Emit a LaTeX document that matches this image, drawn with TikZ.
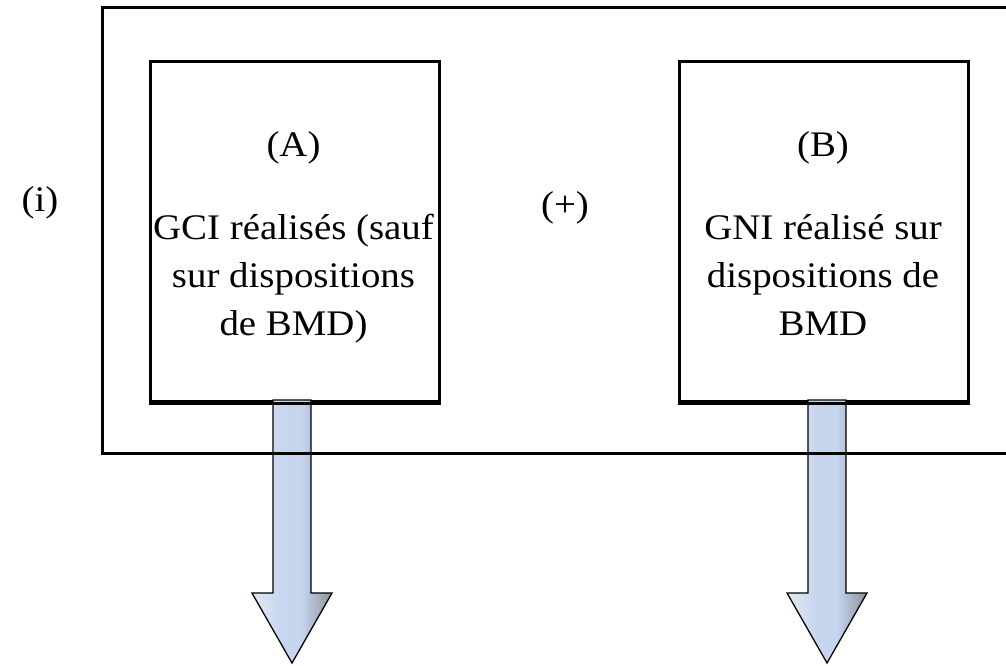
\documentclass[tikz,border=0pt]{standalone}
\usepackage{fontspec}
\setmainfont{Liberation Serif}
\definecolor{arrowL}{HTML}{E2E8F2}
\definecolor{arrowM}{HTML}{C6D6EF}
\definecolor{arrowR}{HTML}{8A919B}
\pgfdeclarehorizontalshading{arrowsh}{100bp}{color(0bp)=(arrowL); color(25bp)=(arrowL); color(44bp)=(arrowM); color(56bp)=(arrowM); color(75bp)=(arrowR); color(100bp)=(arrowR)}
\begin{document}
\begin{tikzpicture}[x=1pt,y=-1pt,
  framebox/.style={draw, line width=3pt, inner sep=0pt, anchor=north west},
  itembox/.style={draw, line width=3pt, minimum width=289pt, minimum height=340pt, inner sep=0pt, anchor=north west},
  lbl/.style={font=\fontsize{36}{48}\selectfont, anchor=base, inner sep=0pt},
  bigarrow/.style={draw=black, line width=1.3pt, line join=miter, shading=arrowsh, shading angle=0}]
\newcommand{\wide}[1]{\scalebox{1.08}[1]{#1}}
\useasboundingbox (0,0) rectangle (1006,665);
% inner boxes
\node[itembox] (A) at (149,60) {};
\node[itembox] (B) at (678,60) {};
% arrows
\coordinate (aT) at (292,400);
\coordinate (bT) at (827,400);
\draw[bigarrow, shift={(aT)}] (-19,0) -- (19,0) -- (19,193) -- (40,193) -- (0,263) -- (-40,193) -- (-19,193) -- cycle;
\draw[bigarrow, shift={(bT)}] (-19,0) -- (19,0) -- (19,193) -- (40,193) -- (0,263) -- (-40,193) -- (-19,193) -- cycle;
% box bottom lines over the arrows
\draw[line width=3pt] (A.south west) -- (A.south east);
\draw[line width=3pt] (B.south west) -- (B.south east);
% outer frame (open to the right)
\node[framebox, minimum width=1000pt, minimum height=446pt] (frame) at (101,6) {};
% texts
\node[lbl] (i) at (40,211) {\wide{(i)}};
\node[lbl] (plus) at (565,216) {\wide{(+)}};
\node[lbl] (Ahead) at (293.5,156) {\wide{(A)}};
\node[lbl] (A1) at (293.5,239) {\wide{GCI réalisés (sauf}};
\node[lbl] (A2) at (293.5,287) {\wide{sur dispositions}};
\node[lbl] (A3) at (293.5,335) {\wide{de BMD)}};
\node[lbl] (Bhead) at (823,156) {\wide{(B)}};
\node[lbl] (B1) at (823,239) {\wide{GNI réalisé sur}};
\node[lbl] (B2) at (823,287) {\wide{dispositions de}};
\node[lbl] (B3) at (823,335) {\wide{BMD}};
\end{tikzpicture}
\end{document}
